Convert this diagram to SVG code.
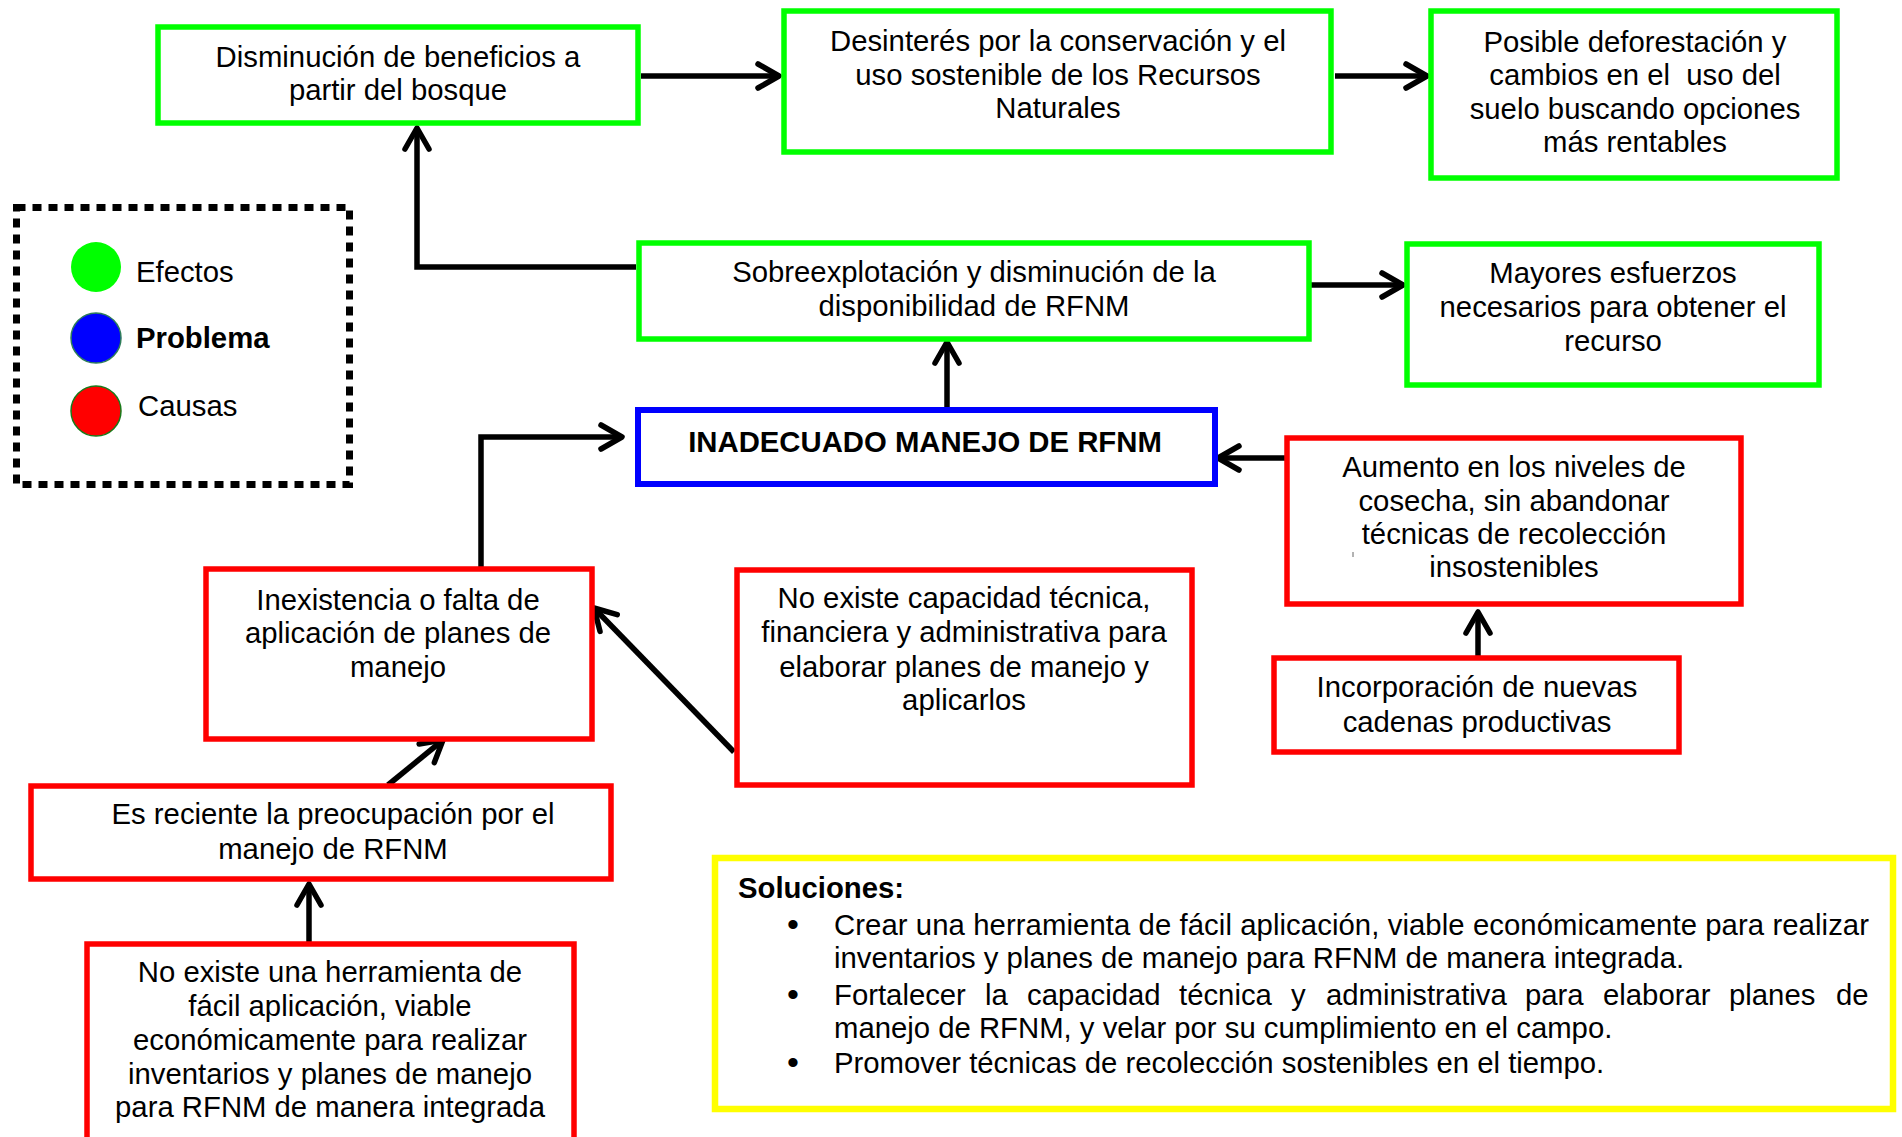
<svg xmlns="http://www.w3.org/2000/svg" width="1902" height="1137" viewBox="0 0 1902 1137">
<style>
.box{fill:#fff;stroke-width:5.5}
.g{stroke:#00ff00}
.r{stroke:#ff0000}
.b{stroke:#0000ff;stroke-width:6}
.y{stroke:#ffff00;stroke-width:6.5}
text{font-family:"Liberation Sans",Arial,sans-serif;font-size:29.3px;fill:#000;white-space:pre}
.c{text-anchor:middle}
.bold{font-weight:bold}
.bul{font-size:34px;text-anchor:middle}
.conn{fill:none;stroke:#000;stroke-width:5.5;stroke-linejoin:miter}
</style>
<defs>
<marker id="arr" markerUnits="userSpaceOnUse" markerWidth="44" markerHeight="44" viewBox="-30 -22 44 44" refX="0" refY="0" orient="auto">
<path d="M-21,-12 L0,0 L-21,12" fill="none" stroke="#000" stroke-width="5.5" stroke-linecap="round" stroke-linejoin="round"/>
</marker>
</defs>
<rect width="1902" height="1137" fill="#fff"/>

<g id="connectors">
<path class="conn" d="M641 76 H779" marker-end="url(#arr)"/>
<path class="conn" d="M1335 76 H1427" marker-end="url(#arr)"/>
<path class="conn" d="M636 267 H417 V128" marker-end="url(#arr)"/>
<path class="conn" d="M1311 285 H1403" marker-end="url(#arr)"/>
<path class="conn" d="M947 408 V342" marker-end="url(#arr)"/>
<path class="conn" d="M1285 458 H1218" marker-end="url(#arr)"/>
<path class="conn" d="M481 567 V437 H622" marker-end="url(#arr)"/>
<path class="conn" d="M734 752 L594 608" marker-end="url(#arr)"/>
<path class="conn" d="M388 785 L443 740" marker-end="url(#arr)"/>
<path class="conn" d="M309 942 V884" marker-end="url(#arr)"/>
<path class="conn" d="M1478 657 V612" marker-end="url(#arr)"/>
</g>

<g id="legend">
<rect x="16.5" y="207.5" width="333" height="277" fill="none" stroke="#000" stroke-width="7" stroke-dasharray="9 7"/>
<circle cx="96" cy="267" r="25" fill="#00ff00"/>
<circle cx="96" cy="338" r="25" fill="#0000ff" stroke="#2e7d5a" stroke-width="1.5"/>
<circle cx="96" cy="411" r="25" fill="#ff0000" stroke="#1a7a1a" stroke-width="1.5"/>
<text x="136" y="282">Efectos</text>
<text x="136" y="348" class="bold">Problema</text>
<text x="138" y="416">Causas</text>
</g>

<g id="n-disminucion">
<rect class="box g" x="158" y="27" width="480" height="96"/>
<text class="c" x="398" y="67">Disminución de beneficios a</text>
<text class="c" x="398" y="100">partir del bosque</text>
</g>

<g id="n-desinteres">
<rect class="box g" x="784" y="11" width="547" height="141"/>
<text class="c" x="1058" y="51">Desinterés por la conservación y el</text>
<text class="c" x="1058" y="84.5">uso sostenible de los Recursos</text>
<text class="c" x="1058" y="118">Naturales</text>
</g>

<g id="n-posible">
<rect class="box g" x="1431" y="11" width="406" height="167"/>
<text class="c" x="1635" y="51.5">Posible deforestación y</text>
<text class="c" x="1635" y="85">cambios en el  uso del</text>
<text class="c" x="1635" y="118.5">suelo buscando opciones</text>
<text class="c" x="1635" y="152">más rentables</text>
</g>

<g id="n-sobreexplotacion">
<rect class="box g" x="639" y="243" width="670" height="96"/>
<text class="c" x="974" y="282">Sobreexplotación y disminución de la</text>
<text class="c" x="974" y="316">disponibilidad de RFNM</text>
</g>

<g id="n-mayores">
<rect class="box g" x="1407" y="244" width="412" height="141"/>
<text class="c" x="1613" y="283">Mayores esfuerzos</text>
<text class="c" x="1613" y="317">necesarios para obtener el</text>
<text class="c" x="1613" y="351">recurso</text>
</g>

<g id="n-problema">
<rect class="box b" x="638" y="410" width="577" height="74"/>
<text class="c bold" x="925" y="452">INADECUADO MANEJO DE RFNM</text>
</g>

<g id="n-aumento">
<rect class="box r" x="1287" y="438" width="454" height="166"/>
<text class="c" x="1514" y="477">Aumento en los niveles de</text>
<text class="c" x="1514" y="511">cosecha, sin abandonar</text>
<text class="c" x="1514" y="544">técnicas de recolección</text>
<text class="c" x="1514" y="577">insostenibles</text>
<line x1="1353" y1="552" x2="1353" y2="557" stroke="#666" stroke-width="1"/>
</g>

<g id="n-incorporacion">
<rect class="box r" x="1274" y="658" width="405" height="94"/>
<text class="c" x="1477" y="697">Incorporación de nuevas</text>
<text class="c" x="1477" y="732">cadenas productivas</text>
</g>

<g id="n-capacidad">
<rect class="box r" x="737" y="570" width="455" height="215"/>
<text class="c" x="964" y="608">No existe capacidad técnica,</text>
<text class="c" x="964" y="642">financiera y administrativa para</text>
<text class="c" x="964" y="677">elaborar planes de manejo y</text>
<text class="c" x="964" y="710">aplicarlos</text>
</g>

<g id="n-inexistencia">
<rect class="box r" x="206" y="569" width="386" height="170"/>
<text class="c" x="398" y="610">Inexistencia o falta de</text>
<text class="c" x="398" y="643">aplicación de planes de</text>
<text class="c" x="398" y="677">manejo</text>
</g>

<g id="n-reciente">
<rect class="box r" x="31" y="786" width="580" height="93"/>
<text class="c" x="333" y="824">Es reciente la preocupación por el</text>
<text class="c" x="333" y="859">manejo de RFNM</text>
</g>

<g id="n-herramienta">
<rect class="box r" x="87" y="944" width="487" height="250"/>
<text class="c" x="330" y="982">No existe una herramienta de</text>
<text class="c" x="330" y="1016">fácil aplicación, viable</text>
<text class="c" x="330" y="1050">económicamente para realizar</text>
<text class="c" x="330" y="1084">inventarios y planes de manejo</text>
<text class="c" x="330" y="1117">para RFNM de manera integrada</text>
</g>

<g id="n-soluciones">
<rect class="box y" x="715" y="858" width="1178" height="251"/>
<text class="bold" x="738" y="898">Soluciones:</text>
<text class="bul" x="793" y="936">•</text>
<text x="834" y="935" textLength="1035" lengthAdjust="spacing">Crear una herramienta de fácil aplicación, viable económicamente para realizar</text>
<text x="834" y="968">inventarios y planes de manejo para RFNM de manera integrada.</text>
<text class="bul" x="793" y="1006">•</text>
<text y="1005"><tspan x="834">Fortalecer</tspan><tspan x="985">la</tspan><tspan x="1027">capacidad</tspan><tspan x="1179">técnica</tspan><tspan x="1291">y</tspan><tspan x="1326">administrativa</tspan><tspan x="1525">para</tspan><tspan x="1603">elaborar</tspan><tspan x="1729">planes</tspan><tspan x="1836">de</tspan></text>
<text x="834" y="1038">manejo de RFNM, y velar por su cumplimiento en el campo.</text>
<text class="bul" x="793" y="1074">•</text>
<text x="834" y="1073">Promover técnicas de recolección sostenibles en el tiempo.</text>
</g>
</svg>
